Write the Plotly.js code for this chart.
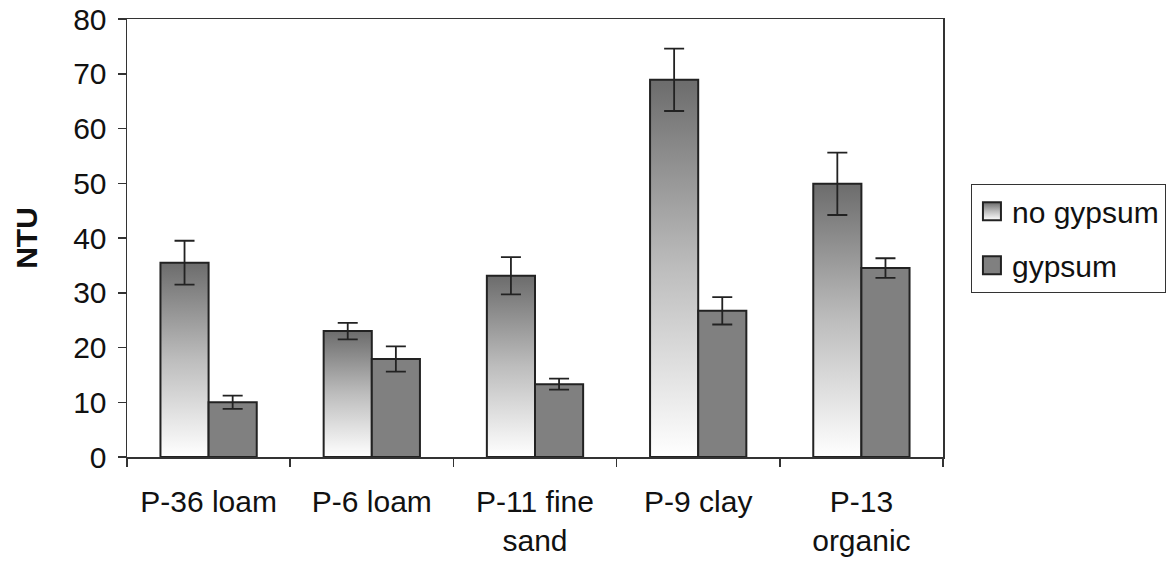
<!DOCTYPE html>
<html><head><meta charset="utf-8">
<script src="https://cdn.plot.ly/plotly-3.0.1.min.js"></script>
<style>html,body{margin:0;padding:0;background:#fff;}#chart{width:1169px;height:563px;}</style>
</head><body><div id="chart"></div>
<script>
const categories = ["P-36 loam", "P-6 loam", "P-11 fine<br>sand", "P-9 clay", "P-13<br>organic"];
const noGypsum = [35.5, 23.0, 33.1, 68.9, 49.9];
const noGypsumErr = [4.0, 1.5, 3.4, 5.7, 5.7];
const gypsum = [10.0, 17.9, 13.3, 26.7, 34.5];
const gypsumErr = [1.2, 2.3, 1.0, 2.5, 1.8];
const yTicks = [0, 10, 20, 30, 40, 50, 60, 70, 80];

const font = {family: "Liberation Sans, Arial, sans-serif", size: 30, color: "#111"};
const errStyle = {type: "data", visible: true, color: "#222", thickness: 1.8, width: 10};

const traces = [
  {type: "bar", name: "no gypsum", x: categories, y: noGypsum, legendgroup: "a",
   error_y: Object.assign({array: noGypsumErr}, errStyle),
   marker: {color: "#b0b0b0", line: {color: "#222", width: 2}}},
  {type: "bar", name: "gypsum", x: categories, y: gypsum, legendgroup: "b",
   error_y: Object.assign({array: gypsumErr}, errStyle),
   marker: {color: "#808080", line: {color: "#222", width: 2}}}
];

const layout = {
  width: 1169, height: 563,
  margin: {l: 127, r: 226, t: 19, b: 106, autoexpand: false},
  paper_bgcolor: "#fff", plot_bgcolor: "#fff",
  font: font,
  barmode: "group", bargap: 0.41, bargroupgap: 0,
  xaxis: {type: "category", showline: true, mirror: true, linecolor: "#333", linewidth: 1.5,
          ticks: "outside", ticklen: 8, tickcolor: "#333", tickwidth: 1.5, tickson: "boundaries",
          ticklabelstandoff: 17, showgrid: false, zeroline: false, tickfont: font, automargin: false},
  yaxis: {range: [0, 80], tickvals: yTicks, ticktext: yTicks.map(String),
          showline: true, mirror: true, linecolor: "#333", linewidth: 1.5,
          ticks: "outside", ticklen: 8, tickcolor: "#333", tickwidth: 1.5,
          ticklabelstandoff: 5, showgrid: false, zeroline: false, tickfont: font, automargin: false,
          title: {text: "<b>NTU</b>", font: font, standoff: 26}},
  legend: {x: 1.034, y: 0.623, xanchor: "left", yanchor: "top", font: font,
           bordercolor: "#333", borderwidth: 1.2, bgcolor: "#fff",
           traceorder: "grouped", tracegroupgap: 12, itemwidth: 30},
  showlegend: true
};

Plotly.newPlot("chart", traces, layout, {displayModeBar: false, staticPlot: true}).then(function(gd){
  const svg = gd.querySelector("svg.main-svg");
  const ns = "http://www.w3.org/2000/svg";
  let defs = svg.querySelector("defs");
  const lg = document.createElementNS(ns, "linearGradient");
  lg.setAttribute("id", "barGrad");
  lg.setAttribute("x1", "0"); lg.setAttribute("y1", "0");
  lg.setAttribute("x2", "0"); lg.setAttribute("y2", "1");
  [["0", "#6c6c6c"], ["0.5", "#bdbdbd"], ["1", "#ffffff"]].forEach(function(s){
    const st = document.createElementNS(ns, "stop");
    st.setAttribute("offset", s[0]); st.setAttribute("stop-color", s[1]);
    lg.appendChild(st);
  });
  defs.appendChild(lg);
  const barTraces = gd.querySelectorAll(".barlayer .trace.bars");
  if (barTraces.length) {
    barTraces[0].querySelectorAll(".point path").forEach(function(p){ p.style.fill = "url(#barGrad)"; });
  }
  const legTraces = gd.querySelectorAll(".legend .traces");
  legTraces.forEach(function(t, i){
    t.querySelectorAll(".legendpoints path").forEach(function(p){
      p.setAttribute("d", "M9,9H-9V-9H9Z");
      if (i === 0) p.style.fill = "url(#barGrad)";
    });
  });
});
</script></body></html>
